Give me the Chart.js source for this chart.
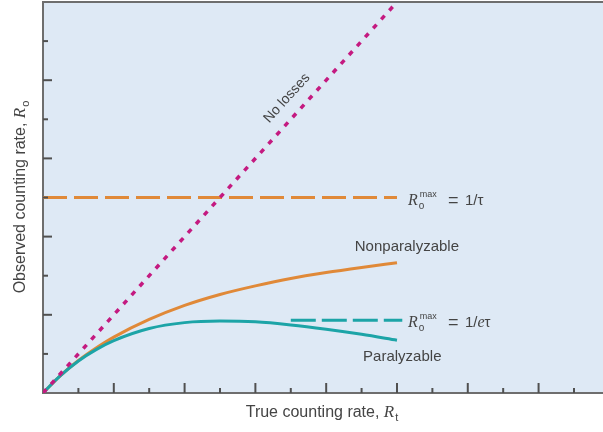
<!DOCTYPE html>
<html>
<head>
<meta charset="utf-8">
<script src="https://cdn.jsdelivr.net/npm/chart.js@4.4.1/dist/chart.umd.min.js"></script>
<style>
  body { margin: 0; background: #fff; }
  canvas { display: block; }
</style>
</head>
<body>
<canvas id="chart" width="603" height="432"></canvas>
<script>
// true counting rate (x) in units where no-losses is y = x
const trueRate = [0, 0.5, 1, 1.5, 2, 3, 4, 5, 6, 7, 8, 9, 10];
const nonParalyzable = [0, 0.45, 0.83, 1.15, 1.43, 1.88, 2.24, 2.52, 2.74, 2.93, 3.08, 3.21, 3.33];
const paralyzable = [0, 0.45, 0.82, 1.11, 1.34, 1.65, 1.80, 1.84, 1.82, 1.74, 1.63, 1.50, 1.35];
const noLossX = [0, 10];
const noLossY = [0, 10];
const maxNonParX = [0, 10];
const maxNonPar = 5;
const maxParX = [7, 10.15];
const maxPar = 1.86;
const xTicks = [1, 2, 3, 4, 5, 6, 7, 8, 9, 10, 11, 12, 13, 14, 15];
const yTicks = [1, 2, 3, 4, 5, 6, 7, 8, 9];

const ORANGE = "#e08938";
const TEAL = "#1ca4a7";
const MAGENTA = "#c41a80";
const AXIS = "#6e6e6e";
const TEXT = "#444444";

const pts = (xs, ys) => xs.map((x, i) => ({ x: x, y: ys[i] }));

const decor = {
  id: "decor",
  beforeDraw(chart) {
    const { ctx, chartArea: a } = chart;
    ctx.save();
    ctx.fillStyle = "#dee9f5";
    ctx.fillRect(a.left, a.top, a.right - a.left, a.bottom - a.top);
    ctx.restore();
  },
  afterDraw(chart) {
    const { ctx, chartArea: a } = chart;
    const xs = chart.scales.x, ys = chart.scales.y;
    ctx.save();
    // top border
    ctx.strokeStyle = AXIS;
    ctx.lineWidth = 2;
    ctx.beginPath();
    ctx.moveTo(a.left, a.top);
    ctx.lineTo(a.right, a.top);
    ctx.stroke();
    // inward tick marks
    ctx.strokeStyle = "#505050";
    ctx.lineWidth = 2;
    xTicks.forEach(v => {
      const px = xs.getPixelForValue(v);
      const len = v % 2 === 0 ? 10 : 5;
      ctx.beginPath();
      ctx.moveTo(px, a.bottom);
      ctx.lineTo(px, a.bottom - len);
      ctx.stroke();
    });
    yTicks.forEach(v => {
      const py = ys.getPixelForValue(v);
      const len = v % 2 === 0 ? 9 : 5;
      ctx.beginPath();
      ctx.moveTo(a.left, py);
      ctx.lineTo(a.left + len, py);
      ctx.stroke();
    });

    ctx.fillStyle = TEXT;
    ctx.textBaseline = "alphabetic";
    const sans = '"Liberation Sans", Arial, sans-serif';
    const serif = '"Liberation Serif", "Times New Roman", serif';

    // R_o^max = ... labels
    const rmax = (x, y, tail) => {
      ctx.textAlign = "left";
      ctx.font = "italic 16px " + serif;
      ctx.fillText("R", x, y);
      let cx = x + ctx.measureText("R").width;
      ctx.font = "10px " + sans;
      ctx.fillText("o", cx + 1, y + 4);
      ctx.font = "9px " + sans;
      ctx.fillText("max", cx + 2, y - 8);
      ctx.font = "18px " + sans;
      ctx.fillText("=", x + 40, y + 1);
      cx = x + 57;
      tail.forEach(r => {
        ctx.font = r.f;
        ctx.fillText(r.t, cx, y);
        cx += ctx.measureText(r.t).width;
      });
    };
    const lx = xs.getPixelForValue(10.31);
    rmax(lx, ys.getPixelForValue(maxNonPar) + 7, [{ t: "1/\u03c4", f: "15px " + sans }]);
    rmax(lx, ys.getPixelForValue(maxPar) + 7, [
      { t: "1/", f: "15px " + sans },
      { t: "e", f: "italic 16px " + serif },
      { t: "\u03c4", f: "15px " + sans }
    ]);

    ctx.font = "15px " + sans;
    ctx.textAlign = "center";
    ctx.fillText("Nonparalyzable", xs.getPixelForValue(10.28), ys.getPixelForValue(3.63));
    ctx.fillText("Paralyzable", xs.getPixelForValue(10.15), ys.getPixelForValue(0.82));

    // "No losses" along the diagonal
    const p0x = xs.getPixelForValue(0), p0y = ys.getPixelForValue(0);
    const p1x = xs.getPixelForValue(10), p1y = ys.getPixelForValue(10);
    const ang = Math.atan2(p1y - p0y, p1x - p0x);
    ctx.save();
    ctx.font = "14px " + sans;
    ctx.translate(xs.getPixelForValue(6.89), ys.getPixelForValue(7.54));
    ctx.rotate(ang);
    ctx.textBaseline = "middle";
    ctx.fillText("No losses", 0, 0);
    ctx.restore();

    // axis titles with italic R and subscripts
    const title = (cx, cy, rot, main, sub) => {
      ctx.save();
      ctx.translate(cx, cy);
      ctx.rotate(rot);
      ctx.textAlign = "left";
      ctx.font = "16px " + sans;
      const w1 = ctx.measureText(main).width;
      ctx.font = "italic 17px " + serif;
      const w2 = ctx.measureText("R").width;
      ctx.font = "11px " + sans;
      const w3 = ctx.measureText(sub).width;
      let x = -(w1 + w2 + w3 + 1) / 2;
      ctx.font = "16px " + sans;
      ctx.fillText(main, x, 0);
      x += w1;
      ctx.font = "italic 17px " + serif;
      ctx.fillText("R", x, 0);
      x += w2 + 1;
      ctx.font = "11px " + sans;
      ctx.fillText(sub, x, 4);
      ctx.restore();
    };
    title((a.left + a.right) / 2 - 1, 417, 0, "True counting rate, ", "t");
    title(25, 197, -Math.PI / 2, "Observed counting rate, ", "o");
    ctx.restore();
  }
};

new Chart(document.getElementById("chart"), {
  type: "line",
  data: {
    datasets: [
      {
        label: "No losses",
        data: pts(noLossX, noLossY),
        borderColor: MAGENTA,
        borderWidth: 3.5,
        borderDash: [5, 7],
        pointRadius: 0,
        order: 0
      },
      {
        label: "Paralyzable",
        data: pts(trueRate, paralyzable),
        borderColor: TEAL,
        borderWidth: 3,
        cubicInterpolationMode: "monotone",
        pointRadius: 0,
        order: 1
      },
      {
        label: "Nonparalyzable",
        data: pts(trueRate, nonParalyzable),
        borderColor: ORANGE,
        borderWidth: 3,
        cubicInterpolationMode: "monotone",
        pointRadius: 0,
        order: 2
      },
      {
        label: "Rmax 1/tau",
        data: pts(maxNonParX, maxNonParX.map(() => maxNonPar)),
        borderColor: ORANGE,
        borderWidth: 3,
        borderDash: [24, 7],
        pointRadius: 0,
        order: 3
      },
      {
        label: "Rmax 1/e tau",
        data: pts(maxParX, maxParX.map(() => maxPar)),
        borderColor: TEAL,
        borderWidth: 3,
        borderDash: [25, 6],
        pointRadius: 0,
        order: 4
      }
    ]
  },
  options: {
    responsive: false,
    animation: false,
    layout: { padding: { top: 2, right: 0, left: 0, bottom: 0 } },
    plugins: { legend: { display: false }, tooltip: { enabled: false } },
    scales: {
      x: {
        type: "linear",
        min: 0,
        max: 15.82,
        ticks: { display: false },
        grid: { display: false, drawTicks: false },
        border: { display: true, color: AXIS, width: 2 },
        afterFit: s => { s.height = 39; }
      },
      y: {
        type: "linear",
        min: 0,
        max: 10,
        ticks: { display: false },
        grid: { display: false, drawTicks: false },
        border: { display: true, color: AXIS, width: 2 },
        afterFit: s => { s.width = 43; }
      }
    }
  },
  plugins: [decor]
});
</script>
</body>
</html>
